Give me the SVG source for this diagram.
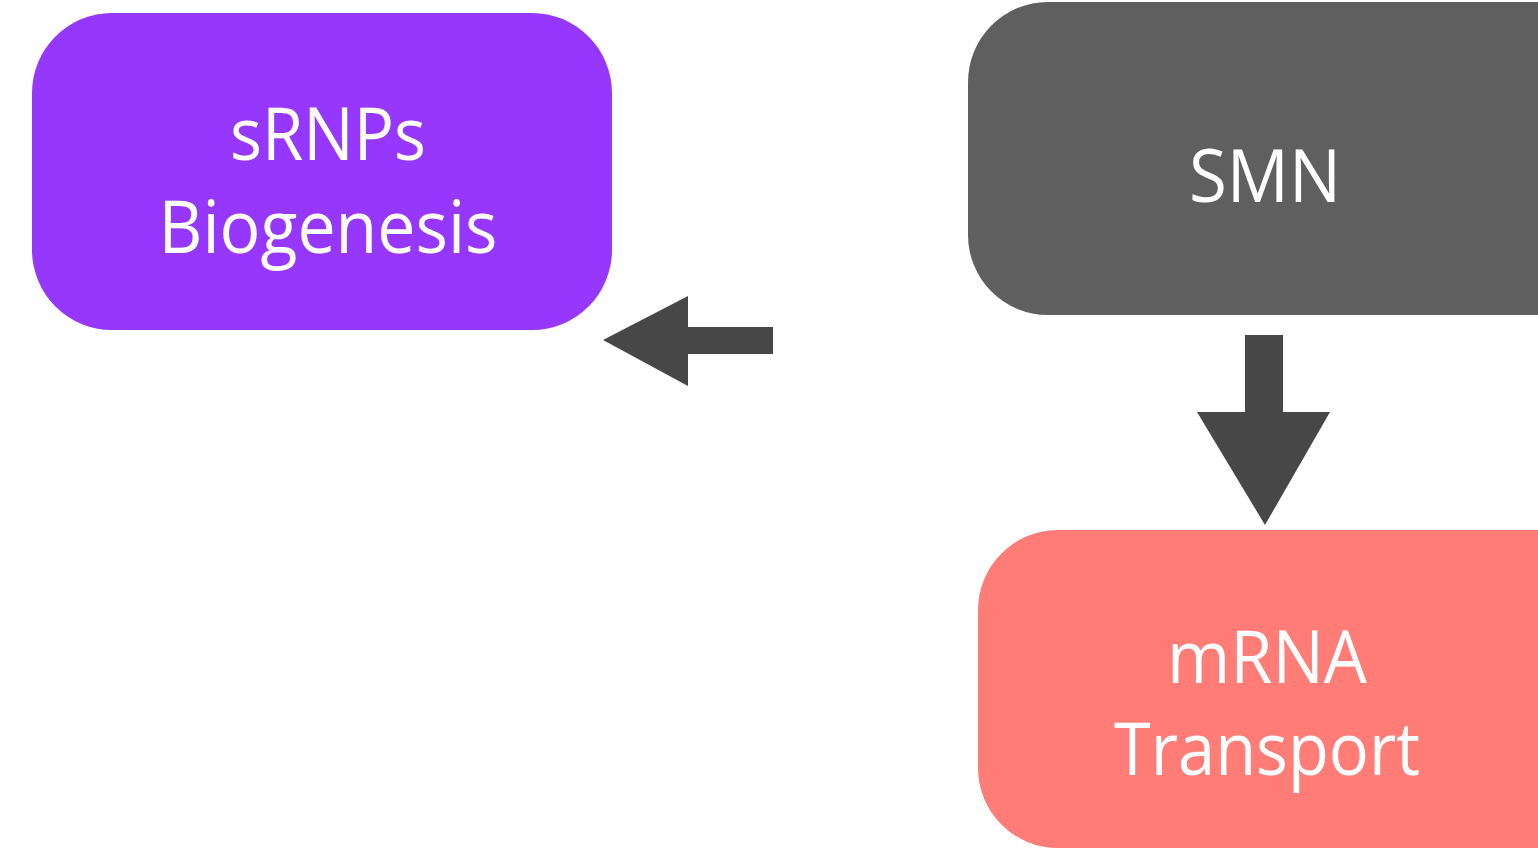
<svg xmlns="http://www.w3.org/2000/svg" width="1538" height="853" viewBox="0 0 1538 853">
  <style>
    .label { font-family: "Open Sans", "Liberation Sans", sans-serif; fill: #ffffff; text-anchor: middle; font-size: 74px; }
    .arrow { fill: #474747; }
  </style>
  <rect width="1538" height="853" fill="#ffffff"/>

  <g id="node-srnps">
    <rect x="32" y="13" width="580" height="317" rx="80" ry="80" fill="#9537fd"/>
    <text class="label" x="328" y="160" textLength="196" lengthAdjust="spacingAndGlyphs">sRNPs</text>
    <text class="label" x="328" y="253" textLength="339" lengthAdjust="spacingAndGlyphs">Biogenesis</text>
  </g>

  <g id="node-smn">
    <rect x="968" y="2" width="660" height="313" rx="80" ry="80" fill="#5f5f5f"/>
    <text class="label" x="1265" y="202" textLength="152" lengthAdjust="spacingAndGlyphs">SMN</text>
  </g>

  <g id="node-mrna">
    <rect x="978" y="530" width="650" height="318" rx="80" ry="80" fill="#ff7c77"/>
    <text class="label" x="1267" y="683" textLength="200" lengthAdjust="spacingAndGlyphs">mRNA</text>
    <text class="label" x="1267" y="775" textLength="306" lengthAdjust="spacingAndGlyphs">Transport</text>
  </g>

  <g id="connectors">
    <polygon class="arrow" points="773,327 688,327 688,296 603,340 688,386 688,354 773,354"/>
    <polygon class="arrow" points="1245,335 1283,335 1283,412 1330,412 1265,525 1197,412 1245,412"/>
  </g>
</svg>
